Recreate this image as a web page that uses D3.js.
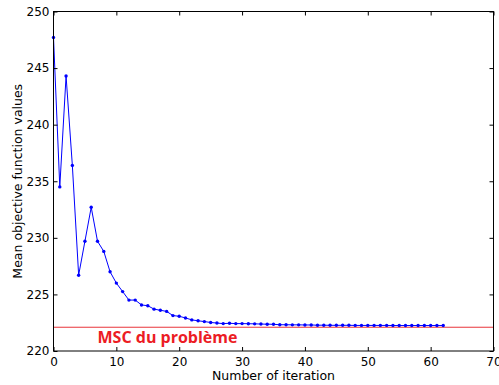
<!DOCTYPE html>
<html><head><meta charset="utf-8">
<script src="https://cdn.jsdelivr.net/npm/d3@7"></script>
<style>body{margin:0;background:#fff}svg{display:block}text{font-family:"DejaVu Sans",sans-serif}</style>
</head><body>
<script>
const iterations = d3.range(0, 63);
const meanValues = [247.7, 234.5, 244.3, 236.4, 226.7, 229.7, 232.7, 229.7, 228.8, 227.0,
  226.0, 225.25, 224.5, 224.5, 224.07, 224.0, 223.7, 223.6, 223.5, 223.13,
  223.07, 222.92, 222.75, 222.67, 222.6, 222.52, 222.47, 222.42, 222.45, 222.42,
  222.42, 222.41, 222.4, 222.38, 222.37, 222.36, 222.32, 222.32, 222.31, 222.31,
  222.3, 222.3, 222.28, 222.28, 222.27, 222.27, 222.27, 222.27, 222.26, 222.26,
  222.26, 222.26, 222.26, 222.26, 222.25, 222.25, 222.25, 222.25, 222.25, 222.25,
  222.25, 222.25, 222.25];
const mscValue = 222.1;
const mscLabel = "MSC du problème";
const xTicks = [0, 10, 20, 30, 40, 50, 60, 70];
const yTicks = [220, 225, 230, 235, 240, 245, 250];
const xLabel = "Number of iteration";
const yLabel = "Mean objective function values";

const W = 499, H = 385;
const m = {l: 53.5, r: 493.5, t: 11.5, b: 351};
const svg = d3.select("body").append("svg").attr("width", W).attr("height", H);
const x = d3.scaleLinear().domain([0, 70]).range([m.l, m.r]);
const y = d3.scaleLinear().domain([220, 250]).range([m.b, m.t]);

// MSC line
svg.append("line").attr("x1", x(0)).attr("x2", x(70)).attr("y1", y(mscValue)).attr("y2", y(mscValue))
  .attr("stroke", "#e8343a").attr("stroke-width", 1);
svg.append("text").attr("x", x(7)).attr("y", y(mscValue) + 15.5)
  .attr("fill", "#ec1c24").attr("font-weight", "bold").attr("font-size", 16)
  .style("font-family", "'Open Sans',sans-serif").text(mscLabel);

// series
const pts = iterations.map((d, i) => [d, meanValues[i]]);
svg.append("path").datum(pts).attr("fill", "none").attr("stroke", "#0000ff").attr("stroke-width", 1)
  .attr("d", d3.line().x(d => x(d[0])).y(d => y(d[1])));
svg.append("g").selectAll("circle").data(pts).join("circle")
  .attr("cx", d => x(d[0])).attr("cy", d => y(d[1])).attr("r", 1.7).attr("fill", "#0000ff");

// axes
const fmt = d3.format("d");
const gx = svg.append("g").attr("transform", `translate(0,${m.b})`)
  .call(d3.axisBottom(x).tickValues(xTicks).tickFormat(fmt).tickSizeInner(-4).tickSizeOuter(0).tickPadding(6));
const gxt = svg.append("g").attr("transform", `translate(0,${m.t})`)
  .call(d3.axisTop(x).tickValues(xTicks).tickFormat("").tickSizeInner(-4).tickSizeOuter(0));
const gy = svg.append("g").attr("transform", `translate(${m.l},0)`)
  .call(d3.axisLeft(y).tickValues(yTicks).tickFormat(fmt).tickSizeInner(-4).tickSizeOuter(0).tickPadding(4));
const gyr = svg.append("g").attr("transform", `translate(${m.r},0)`)
  .call(d3.axisRight(y).tickValues(yTicks).tickFormat("").tickSizeInner(-4).tickSizeOuter(0));
[gx, gxt, gy, gyr].forEach(g => {
  g.select(".domain").remove();
  g.selectAll("line").attr("stroke", "#000");
  g.selectAll("text").attr("font-size", 12).attr("fill", "#000").style("font-family", "'DejaVu Sans',sans-serif");
});
svg.append("rect").attr("x", m.l).attr("y", m.t).attr("width", m.r - m.l).attr("height", m.b - m.t)
  .attr("fill", "none").attr("stroke", "#000").attr("stroke-width", 1);

svg.append("text").attr("x", (m.l + m.r) / 2).attr("y", 380).attr("text-anchor", "middle")
  .attr("font-size", 12.5).text(xLabel);
svg.append("text").attr("transform", `translate(21.5,${(m.t + m.b) / 2}) rotate(-90)`)
  .attr("text-anchor", "middle").attr("font-size", 12.5).text(yLabel);
</script>
</body></html>
